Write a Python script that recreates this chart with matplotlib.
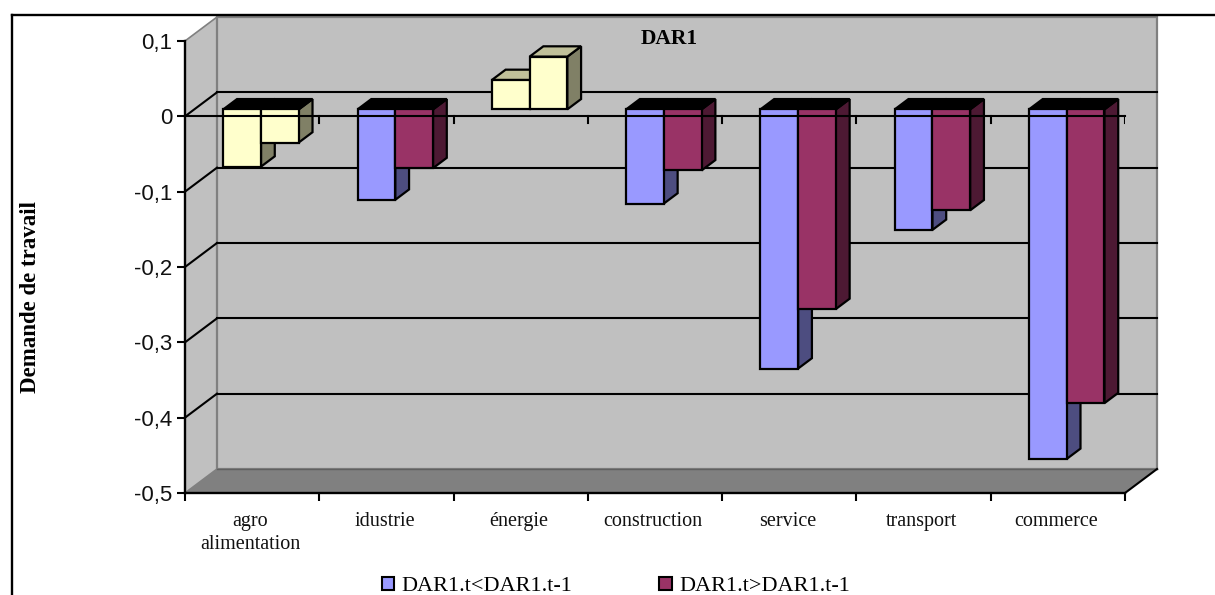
import matplotlib
matplotlib.use("Agg")
import matplotlib.pyplot as plt
from matplotlib.patches import Polygon, Patch
from matplotlib.transforms import Affine2D

categories = ["agro\nalimentation", "idustrie", "énergie", "construction", "service", "transport", "commerce"]
series_low = [-0.076, -0.120, 0.039, -0.125, -0.344, -0.160, -0.464]
series_high = [-0.044, -0.078, 0.070, -0.081, -0.265, -0.134, -0.390]
series_names = ["DAR1.t<DAR1.t-1", "DAR1.t>DAR1.t-1"]
y_ticks = [0.1, 0, -0.1, -0.2, -0.3, -0.4, -0.5]
y_labels = ["0,1", "0", "-0,1", "-0,2", "-0,3", "-0,4", "-0,5"]
grid_values = [0, -0.1, -0.2, -0.3, -0.4]

BLUE, BLUE_D = "#9999FF", "#4D4D80"
RED, RED_D = "#993366", "#4D1933"
YEL, YEL_D, YEL_T = "#FFFFCC", "#808066", "#C0C099"
WALL, FLOOR, EDGE = "#C0C0C0", "#808080", "#808080"
W, H = 1215, 595
DX, DY = 32, 24

fig = plt.figure(figsize=(W / 100, H / 100), dpi=100, facecolor="white")
ax = fig.add_axes([185 / W, (H - 493) / H, 940 / W, 452 / H])
ax.set_xlim(0, 7)
ax.set_ylim(-0.5, 0.1)
ax.patch.set_visible(False)
for s in ax.spines.values():
    s.set_visible(False)


def depth(f):
    return ax.transData + Affine2D().translate(DX * f, DY * f)


def mixed_poly(pts, **kw):
    """pts: (x, y, depth fraction) converted to display coordinates."""
    disp = [depth(f).transform((x, y)) for x, y, f in pts]
    p = Polygon(disp, closed=True, clip_on=False, **kw)
    p.set_transform(Affine2D())
    ax.add_artist(p)
    return p


def seg(p, q, **kw):
    a = depth(p[2]).transform(p[:2])
    b = depth(q[2]).transform(q[:2])
    l = plt.Line2D([a[0], b[0]], [a[1], b[1]], transform=Affine2D(), clip_on=False, **kw)
    ax.add_artist(l)


mixed_poly([(0, -0.5, 0), (0, 0.1, 0), (0, 0.1, 1), (0, -0.5, 1)], facecolor=WALL, edgecolor="none", zorder=1)
mixed_poly([(0, -0.5, 1), (0, 0.1, 1), (7, 0.1, 1), (7, -0.5, 1)], facecolor=WALL, edgecolor=EDGE, lw=1.6, zorder=1.2)
mixed_poly([(0, -0.5, 0), (0, -0.5, 1), (7, -0.5, 1), (7, -0.5, 0)], facecolor=FLOOR, edgecolor="none", zorder=1.3)

seg((0, 0.1, 0), (0, 0.1, 1), color=EDGE, lw=1.2, zorder=1.4)
seg((0, -0.5, 0), (0, -0.5, 1), color=EDGE, lw=1.2, zorder=1.4)
seg((0, -0.5, 1), (7, -0.5, 1), color="#606060", lw=1, zorder=1.4)
seg((7, -0.5, 0), (7, -0.5, 1), color="black", lw=1.5, zorder=1.4)
for v in grid_values:
    seg((0, v, 0), (0, v, 1), color="black", lw=1.5, zorder=2)
    seg((0, v, 1), (7, v, 1), color="black", lw=1.5, zorder=2)

BW = 0.281
F0, F1 = 0.29, 0.72


def bar(x0, v, front, side, top):
    x1 = x0 + BW
    lo, hi = min(v, 0), max(v, 0)
    kw = dict(edgecolor="black", lw=1.6, joinstyle="miter", zorder=3)
    mixed_poly([(x1, lo, F0), (x1, hi, F0), (x1, hi, F1), (x1, lo, F1)], facecolor=side, **kw)
    mixed_poly([(x0, hi, F0), (x1, hi, F0), (x1, hi, F1), (x0, hi, F1)], facecolor=top, **kw)
    mixed_poly([(x0, lo, F0), (x1, lo, F0), (x1, hi, F0), (x0, hi, F0)], facecolor=front, **kw)


for i in range(len(categories)):
    yellow = i in (0, 2)
    c1 = (YEL, YEL_D) if yellow else (BLUE, BLUE_D)
    c2 = (YEL, YEL_D) if yellow else (RED, RED_D)
    top1 = "black" if series_low[i] < 0 else YEL_T
    top2 = "black" if series_high[i] < 0 else YEL_T
    bar(i + 0.497 - BW, series_low[i], *c1, top1)
    bar(i + 0.497, series_high[i], *c2, top2)

ax.plot([0, 7], [0, 0], color="black", lw=1.5, zorder=5, clip_on=False)
ax.plot([0, 7], [-0.5, -0.5], color="black", lw=1.7, zorder=5, clip_on=False)
ax.plot([0, 0], [-0.5, 0.1], color="black", lw=1.7, zorder=5, clip_on=False)
for i in range(1, 8):
    ax.plot([i, i], [0, -0.009], color="black", lw=1.5, zorder=5)
ax.set_yticks(y_ticks, y_labels, fontsize=16, family="Liberation Sans", color="#111111")
ax.tick_params(axis="y", length=6, width=1.5, pad=3)
ax.set_xticks(range(8), [""] * 8)
ax.tick_params(axis="x", length=6, width=1.5)
for i, c in enumerate(categories):
    ax.annotate(c, (i + 0.5, -0.5), xytext=(-2, -19), textcoords="offset pixels", ha="center", va="top",
                family="Liberation Serif", fontsize=14.5, linespacing=1.3, color="#111111")

fig.text(669 / W, 1 - 39 / H, "DAR1", family="Liberation Serif", weight="bold", fontsize=15.5, ha="center",
         va="center", zorder=6)
fig.text(31 / W, 1 - 297 / H, "Demande de travail", family="Liberation Serif", weight="bold", fontsize=16.5,
         rotation=90, ha="center", va="center")

fig.add_artist(plt.Line2D([11.5 / W, 11.5 / W], [0, 1 - 14.5 / H], color="black", lw=1.7))
fig.add_artist(plt.Line2D([11.5 / W, 1], [1 - 14.5 / H, 1 - 14.5 / H], color="black", lw=1.7, zorder=10))

handles = [Patch(facecolor=BLUE, edgecolor="black", lw=1.5), Patch(facecolor=RED, edgecolor="black", lw=1.5)]
fig.legend(handles, series_names, ncol=2, loc="center", bbox_to_anchor=(616 / W, 1 - 586.5 / H), frameon=False,
           prop={"family": "Liberation Serif", "size": 16}, handlelength=0.55, handleheight=0.55,
           handletextpad=0.35, columnspacing=3.9, borderpad=0, borderaxespad=0)

fig.savefig("out.png", dpi=100)
